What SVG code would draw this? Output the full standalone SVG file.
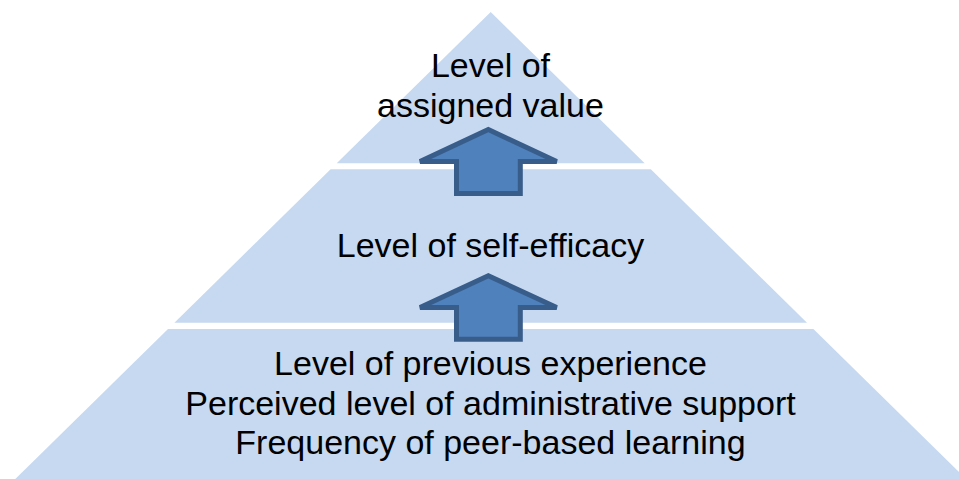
<svg xmlns="http://www.w3.org/2000/svg" width="959" height="479" viewBox="0 0 959 479">
  <style>
    .tier { fill: #C6D9F1; stroke: none; }
    .lbl { font-family: "Liberation Sans", Arial, sans-serif; font-size: 34px; fill: #000; text-anchor: middle; }
    .arrow { fill: #4F81BD; stroke: #385D8A; stroke-width: 5; stroke-linejoin: miter; }
  </style>
  <rect width="959" height="479" fill="#FFFFFF"/>
  <g id="tier-top">
    <polygon class="tier" points="490.7,12 644.7,163.3 336.7,163.3"/>
    <text class="lbl" x="490.5" y="77">Level of</text>
    <text class="lbl" x="490.5" y="117">assigned value</text>
  </g>
  <g id="tier-middle">
    <polygon class="tier" points="330.6,169.3 650.8,169.3 807,322.7 174.4,322.7"/>
    <text class="lbl" x="490.5" y="257">Level of self-efficacy</text>
  </g>
  <g id="tier-bottom">
    <polygon class="tier" points="168,329 813.4,329 966,479 15.3,479"/>
    <text class="lbl" x="490.5" y="374.5">Level of previous experience</text>
    <text class="lbl" x="490.5" y="414.5">Perceived level of administrative support</text>
    <text class="lbl" x="490.5" y="454">Frequency of peer-based learning</text>
  </g>
  <g id="connectors">
    <path class="arrow" d="M488.3,129.5 L420,161.5 L456.5,161.5 L456.5,193.5 L520.3,193.5 L520.3,161.5 L556.7,161.5 Z"/>
    <path class="arrow" d="M488.3,275.8 L420,307.5 L456.5,307.5 L456.5,339.2 L520.3,339.2 L520.3,307.5 L556.7,307.5 Z"/>
  </g>
</svg>
